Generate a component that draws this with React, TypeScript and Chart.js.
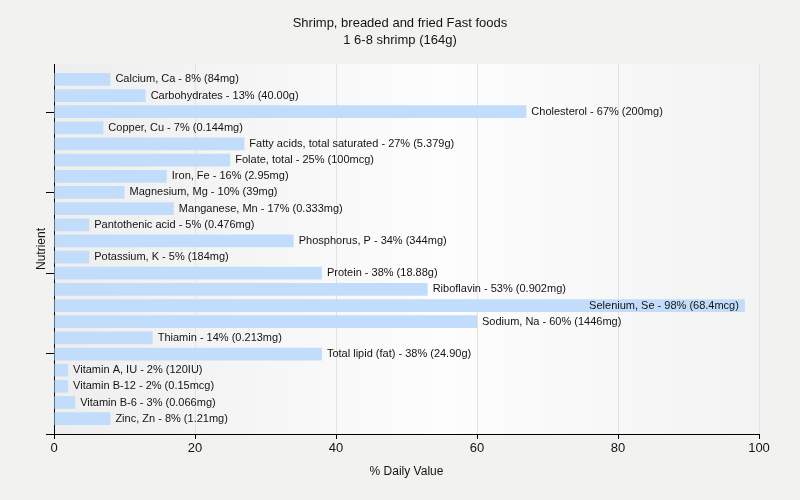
import React, { useEffect, useRef } from "react";
import { Chart, registerables } from "chart.js";

Chart.register(...registerables);

const titleLines = ["Shrimp, breaded and fried Fast foods", "1 6-8 shrimp (164g)"];
const xAxisTitle = "% Daily Value";
const yAxisTitle = "Nutrient";

const nutrients = [
  "Calcium, Ca",
  "Carbohydrates",
  "Cholesterol",
  "Copper, Cu",
  "Fatty acids, total saturated",
  "Folate, total",
  "Iron, Fe",
  "Magnesium, Mg",
  "Manganese, Mn",
  "Pantothenic acid",
  "Phosphorus, P",
  "Potassium, K",
  "Protein",
  "Riboflavin",
  "Selenium, Se",
  "Sodium, Na",
  "Thiamin",
  "Total lipid (fat)",
  "Vitamin A, IU",
  "Vitamin B-12",
  "Vitamin B-6",
  "Zinc, Zn",
];
const dailyValues = [8, 13, 67, 7, 27, 25, 16, 10, 17, 5, 34, 5, 38, 53, 98, 60, 14, 38, 2, 2, 3, 8];
const amounts = [
  "84mg", "40.00g", "200mg", "0.144mg", "5.379g", "100mcg", "2.95mg", "39mg", "0.333mg", "0.476mg",
  "344mg", "184mg", "18.88g", "0.902mg", "68.4mcg", "1446mg", "0.213mg", "24.90g", "120IU", "0.15mcg",
  "0.066mg", "1.21mg",
];
const xTicks = [0, 20, 40, 60, 80, 100];

const FONT = "'Liberation Sans', Arial, sans-serif";
const TEXT = "#141414";

export default function App() {
  const ref = useRef<HTMLCanvasElement | null>(null);

  useEffect(() => {
    document.body.style.margin = "0";
    const canvas = ref.current!;
    const data = dailyValues.map((v, i) => ({ x: v, y: i }));

    const bgPlugin = {
      id: "bg",
      beforeDraw(chart: any) {
        const { ctx, chartArea: a } = chart;
        ctx.save();
        ctx.fillStyle = "#f2f2f1";
        ctx.fillRect(0, 0, chart.width, chart.height);
        const g = ctx.createLinearGradient(a.left, 0, a.right, 0);
        g.addColorStop(0, "#eeeeee");
        g.addColorStop(0.55, "#fdfdfd");
        g.addColorStop(1, "#f3f3f3");
        ctx.fillStyle = g;
        ctx.fillRect(a.left, a.top, a.right - a.left, a.bottom - a.top);
        ctx.restore();
      },
    };

    const textPlugin = {
      id: "texts",
      afterDatasetsDraw(chart: any) {
        const { ctx, chartArea: a } = chart;
        const meta = chart.getDatasetMeta(0);
        ctx.save();
        ctx.font = `11px ${FONT}`;
        ctx.fillStyle = TEXT;
        ctx.textBaseline = "middle";
        meta.data.forEach((bar: any, i: number) => {
          const label = `${nutrients[i]} - ${dailyValues[i]}% (${amounts[i]})`;
          const w = ctx.measureText(label).width;
          const x = bar.x;
          if (x + 5 + w > a.right) {
            ctx.textAlign = "right";
            ctx.fillText(label, x - 6, bar.y);
          } else {
            ctx.textAlign = "left";
            ctx.fillText(label, x + 5, bar.y);
          }
        });
        ctx.textAlign = "center";
        ctx.font = `13px ${FONT}`;
        ctx.fillText(titleLines[0], 400, 23);
        ctx.fillText(titleLines[1], 400, 40);
        ctx.font = `12px ${FONT}`;
        ctx.fillText(xAxisTitle, (a.left + a.right) / 2, 472);
        ctx.save();
        ctx.translate(42, (a.top + a.bottom) / 2);
        ctx.rotate(-Math.PI / 2);
        ctx.fillText(yAxisTitle, 0, 0);
        ctx.restore();
        ctx.restore();
      },
    };

    const chart = new Chart(canvas, {
      type: "bar",
      data: {
        datasets: [
          {
            data,
            backgroundColor: "rgb(194,221,251)",
            borderWidth: 0,
            barPercentage: 0.83,
            categoryPercentage: 1,
            xAxisID: "x",
            yAxisID: "y",
          },
        ],
      },
      options: {
        indexAxis: "y",
        animation: false,
        responsive: false,
        maintainAspectRatio: false,
        layout: { padding: { left: 0, right: 41, top: 64, bottom: 0 } },
        plugins: { legend: { display: false }, tooltip: { enabled: false }, title: { display: false } },
        scales: {
          x: {
            type: "linear",
            position: "bottom",
            min: 0,
            max: 100,
            offset: false,
            afterBuildTicks: (s: any) => {
              s.ticks = xTicks.map((v) => ({ value: v }));
            },
            afterFit: (s: any) => {
              s.height = 66;
            },
            grid: {
              color: "#e2e2e2",
              tickColor: "#000",
              tickLength: 5,
              drawOnChartArea: true,
            },
            border: { color: "#000", width: 1 },
            ticks: { color: TEXT, font: { family: FONT, size: 13 }, padding: 2, maxRotation: 0 },
          },
          y: {
            type: "linear",
            display: false,
            reverse: true,
            offset: false,
            min: -0.95,
            max: 21.95,
          },
          y2: {
            type: "linear",
            position: "left",
            offset: false,
            min: 0,
            max: 370 / 80.5,
            afterBuildTicks: (s: any) => {
              s.ticks = [0, 1, 2, 3, 4].map((v) => ({ value: v }));
            },
            afterFit: (s: any) => {
              s.width = 54;
            },
            grid: { drawOnChartArea: false, offset: false, tickColor: "#000", tickLength: 8 },
            border: { color: "#000", width: 1 },
            ticks: { display: false },
          },
        },
      },
      plugins: [bgPlugin, textPlugin],
    } as any);
    return () => chart.destroy();
  }, []);

  return (
    <div style={{ width: 800, height: 500 }}>
      <canvas ref={ref} width={800} height={500} style={{ display: "block" }} />
    </div>
  );
}
